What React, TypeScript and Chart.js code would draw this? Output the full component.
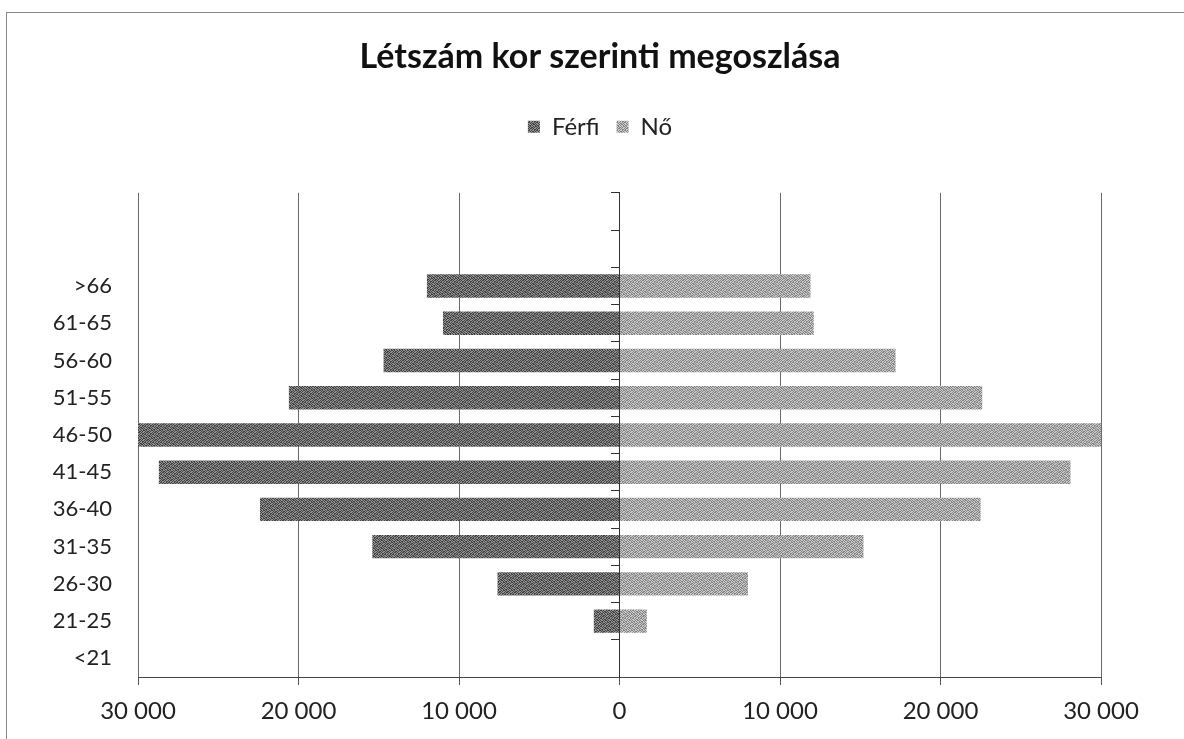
import React, { useEffect, useRef } from 'react';
import { Chart, registerables } from 'chart.js';

Chart.register(...registerables);

const chartTitle = 'Létszám kor szerinti megoszlása';
const seriesNames = ['Férfi', 'Nő'];
const emptyTopRows = ['', ''];
const categories = ['>66', '61-65', '56-60', '51-55', '46-50', '41-45', '36-40', '31-35', '26-30', '21-25', '<21'];
const maleValues = [12000, 11000, 14700, 20600, 30000, 28700, 22400, 15400, 7600, 1600, 0];
const femaleValues = [11900, 12100, 17200, 22600, 30000, 28100, 22500, 15200, 8000, 1700, 0];
const xTickValues = [-30000, -20000, -10000, 0, 10000, 20000, 30000];

const DITHER = [
  '10110100',
  '01001011',
  '11010010',
  '00101101',
  '10010110',
  '01101001',
  '10100101',
  '01011010',
];

function makePattern(dark: string, light: string): CanvasPattern | string {
  const c = document.createElement('canvas');
  c.width = 8;
  c.height = 8;
  const ctx = c.getContext('2d');
  if (!ctx) return dark;
  for (let y = 0; y < 8; y++) {
    for (let x = 0; x < 8; x++) {
      ctx.fillStyle = DITHER[y][x] === '1' ? dark : light;
      ctx.fillRect(x, y, 1, 1);
    }
  }
  return ctx.createPattern(c, 'repeat') || dark;
}

function fmt(v: number): string {
  return String(Math.abs(v)).replace(/\B(?=(\d{3})+(?!\d))/g, ' ');
}

export default function App() {
  const ref = useRef<HTMLCanvasElement | null>(null);

  useEffect(() => {
    document.body.style.margin = '0';
    const canvas = ref.current;
    if (!canvas) return;
    const labels = [...emptyTopRows, ...categories];
    const pad = emptyTopRows.map(() => null);
    const malePattern = makePattern('#404040', '#939393');
    const femalePattern = makePattern('#828282', '#cbcbcb');

    const headerShift = {
      id: 'headerShift',
      beforeInit(chart: any) {
        const legend = chart.legend;
        if (!legend) return;
        const orig = legend.fit;
        legend.fit = function () {
          orig.call(this);
          this.height += 44;
        };
      },
      afterLayout(chart: any) {
        if (chart.titleBlock) chart.titleBlock.left = 99;
        if (chart.legend) chart.legend.left = 99;
      },
    };

    const chart = new Chart(canvas, {
      type: 'bar',
      data: {
        labels,
        datasets: [
          {
            label: seriesNames[0],
            data: [...pad, ...maleValues.map((v) => -v)],
            backgroundColor: malePattern as any,
            borderWidth: 0,
            barPercentage: 0.63,
            categoryPercentage: 1,
          },
          {
            label: seriesNames[1],
            data: [...pad, ...femaleValues],
            backgroundColor: femalePattern as any,
            borderWidth: 0,
            barPercentage: 0.63,
            categoryPercentage: 1,
          },
        ],
      },
      options: {
        indexAxis: 'y',
        animation: false,
        responsive: false,
        maintainAspectRatio: false,
        layout: { padding: { top: 37, right: 83, bottom: 0, left: 0 } },
        plugins: {
          title: {
            display: true,
            text: chartTitle,
            color: '#111',
            font: { family: 'Lato', size: 34, weight: 'bold' },
            padding: { top: 0, bottom: 20 },
          },
          legend: {
            display: true,
            position: 'top',
            labels: {
              color: '#222',
              font: { family: 'Lato', size: 24 },
              boxWidth: 12,
              boxHeight: 12,
              padding: 17,
            },
          },
          tooltip: { enabled: false },
        },
        scales: {
          x: {
            type: 'linear',
            stacked: true,
            min: -30000,
            max: 30000,
            afterBuildTicks(scale: any) {
              scale.ticks = xTickValues.map((v) => ({ value: v }));
            },
            afterFit(scale: any) {
              scale.height = 62;
            },
            ticks: {
              color: '#222',
              font: { family: 'Lato', size: 24 },
              padding: 12,
              maxRotation: 0,
              callback: (v: any) => fmt(Number(v)),
            },
            grid: {
              color: '#6a6a6a',
              lineWidth: 1,
              drawTicks: true,
              tickLength: 8,
              tickColor: '#555',
            },
            border: { display: true, color: '#444', width: 1 },
          },
          y: {
            type: 'category',
            stacked: true,
            offset: true,
            afterFit(scale: any) {
              scale.width = 138;
            },
            ticks: {
              color: '#222',
              font: { family: 'Lato', size: 22 },
              padding: 26,
              autoSkip: false,
            },
            grid: { display: false, drawTicks: false, offset: true },
            border: { display: false },
          },
          y2: {
            type: 'category',
            axis: 'y',
            position: { x: 0 } as any,
            offset: true,
            ticks: { display: false, autoSkip: false },
            grid: {
              offset: true,
              drawOnChartArea: false,
              drawTicks: true,
              tickLength: 8,
              color: '#333',
            },
            border: { display: true, color: '#333', width: 1 },
          },
        },
      } as any,
      plugins: [headerShift],
    });

    return () => {
      chart.destroy();
    };
  }, []);

  return (
    <div style={{ position: 'relative', width: 1184, height: 739, overflow: 'hidden', background: '#fff' }}>
      <div
        style={{
          position: 'absolute',
          left: 6,
          top: 12,
          width: 1200,
          height: 760,
          borderLeft: '1px solid #888',
          borderTop: '1px solid #888',
          boxSizing: 'border-box',
        }}
      />
      <canvas ref={ref} width={1184} height={739} style={{ position: 'absolute', left: 0, top: 0, display: 'block' }} />
    </div>
  );
}
